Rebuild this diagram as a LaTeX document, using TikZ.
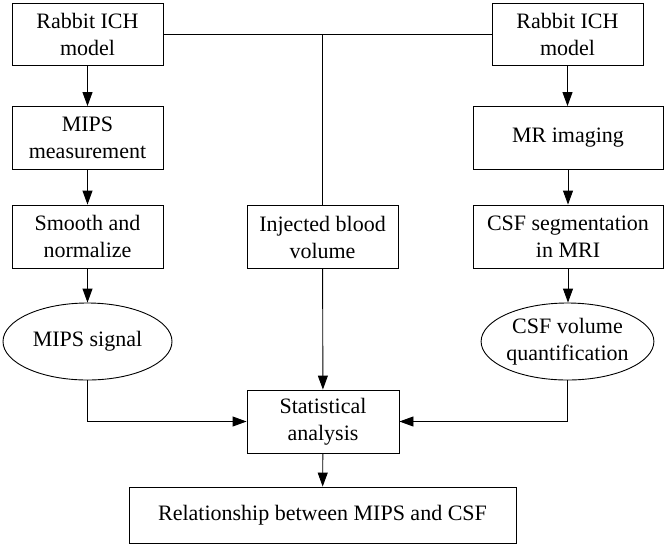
\documentclass[tikz,border=0pt]{standalone}
\usepackage{fontspec}
\setmainfont{Liberation Serif}
\usetikzlibrary{shapes.geometric,arrows.meta}
\begin{document}
\begin{tikzpicture}[x=1pt,y=-1pt,
  every node/.style={font=\fontsize{22}{27}\selectfont, align=center, inner sep=0pt},
  box/.style={draw, line width=0.9pt, rectangle, minimum height=63pt},
  oval/.style={draw, line width=0.9pt, ellipse, minimum height=77pt},
  link/.style={line width=0.9pt},
  arr/.style={line width=0.9pt, -{Triangle[length=14pt,width=10pt]}}]
\useasboundingbox (0,0) rectangle (666,547);
\node[box, minimum width=151pt, minimum height=62pt] (r1L) at (87.5,34.5) {Rabbit ICH\\model};
\node[box, minimum width=151pt] (mipsm) at (87.5,138) {MIPS\\measurement};
\node[box, minimum width=151pt] (smooth) at (87.5,236.5) {Smooth and\\normalize};
\node[oval, minimum width=169pt] (sig) at (87.5,341.5) {MIPS signal};
\node[box, minimum width=151pt] (inj) at (322.5,237) {Injected blood\\volume};
\node[box, minimum width=151pt, minimum height=62pt] (r1R) at (567.5,34.5) {Rabbit ICH\\model};
\node[box, minimum width=190pt] (mr) at (568,138) {MR imaging};
\node[box, minimum width=190pt] (seg) at (568,236.5) {CSF segmentation\\in MRI};
\node[oval, minimum width=167pt] (csfv) at (567.5,341.5) {CSF volume\\quantification};
\node[box, minimum width=152pt] (stat) at (323,421.5) {Statistical\\analysis};
\node[box, minimum width=387pt, minimum height=56pt] (rel) at (322.5,515) {Relationship between MIPS and CSF};
\coordinate (j) at (inj.north |- r1L.east);
\draw[link] (r1L.east) -- (r1R.west);
\draw[link] (j) -- (inj.north);
\draw[arr] (r1L) -- (mipsm);
\draw[arr] (mipsm) -- (smooth);
\draw[arr] (smooth) -- (sig);
\draw[arr] (r1R.south) -- (r1R.south |- mr.north);
\draw[arr] (mr) -- (seg);
\draw[arr] (seg.south) -- (seg.south |- csfv.north);
\draw[arr] (inj) -- (stat);
\draw[arr] (sig.south) |- (stat.west);
\draw[arr] (csfv.south) |- (stat.east);
\draw[arr] (stat) -- (rel);
\end{tikzpicture}
\end{document}
